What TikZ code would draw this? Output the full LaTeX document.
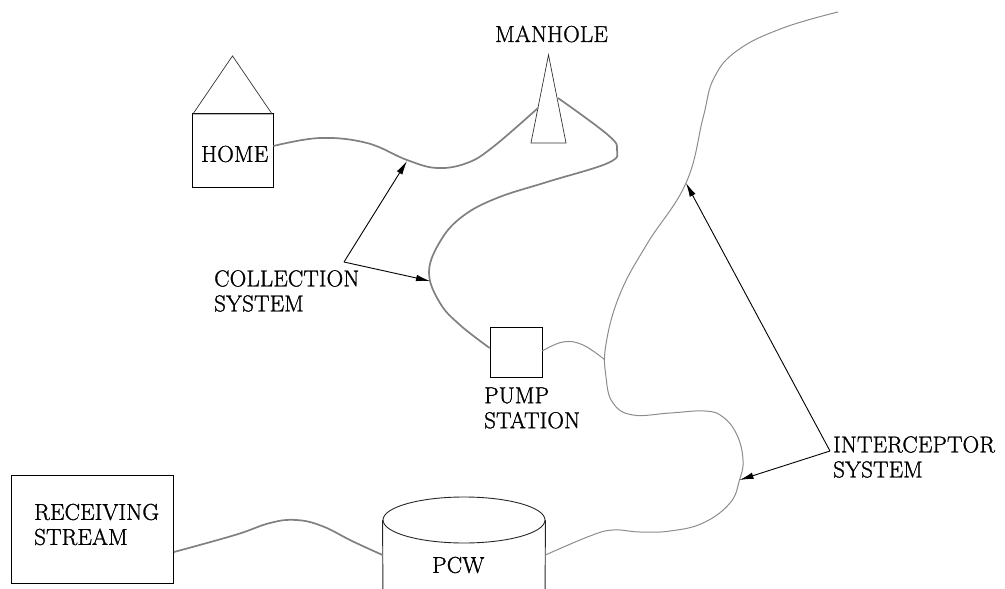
\documentclass[tikz,border=0pt]{standalone}
\usepackage{fontspec}
\newfontfamily\lblfont[FakeBold=1.2,LetterSpace=0.7]{Latin Modern Roman}
\usetikzlibrary{shapes.geometric,arrows.meta}

\begin{document}
\begin{tikzpicture}[
    x=1pt, y=-1pt,
    font=\lblfont\fontsize{23}{25}\selectfont,
    lbl/.style={align=left, anchor=west, inner sep=0pt},
    plainbox/.style={rectangle, draw=black, line width=0.9pt, inner sep=0pt},
    tri/.style={isosceles triangle, isosceles triangle stretches, shape border rotate=90,
                anchor=apex, draw=black!80, line width=0.7pt, inner sep=0pt},
    pcwtop/.style={ellipse, draw=black!85, line width=0.9pt, inner sep=0pt,
                minimum width=162pt, minimum height=46pt},
    colpipe/.style={draw=black!50, line width=1.7pt},
    intpipe/.style={draw=black!45, line width=1pt},
    arr/.style={-{Latex[length=14pt,width=6.5pt]}, line width=0.9pt, black}
]
\useasboundingbox (0,0) rectangle (1005,589);
\clip (0,0) rectangle (1005,589);

% ---- Home ----
\node[plainbox, minimum width=81pt, minimum height=74pt] (home) at (232.5,150) {};
\node[tri, minimum width=79pt, minimum height=58pt] (roof) at (232.5,55) {};
\node[lbl] (hometxt) at (201,154) {HOME};

% ---- Manhole ----
\node[tri, minimum width=35pt, minimum height=88pt] (manhole) at (548.5,54) {};
\node[lbl] (manholetxt) at (495,34) {MANHOLE};
\coordinate (mhleft) at (538,108);
\coordinate (mhright) at (558,98);

% ---- Pump Station ----
\node[plainbox, line width=0.7pt, minimum width=52pt, minimum height=50pt] (pump) at (516,352) {};
\node[lbl] (pumptxt) at (484,408) {PUMP\\STATION};

% ---- Receiving Stream ----
\node[plainbox, minimum width=162pt, minimum height=108pt] (stream) at (92.5,529.5) {};
\node[lbl] (streamtxt) at (34,524.5) {RECEIVING\\STREAM};

% ---- PCW ----
\node[pcwtop] (pcw) at (464,520) {};
\coordinate (pcwbotl) at (383,600);
\coordinate (pcwbotr) at (545,600);
\draw[black!85, line width=0.9pt] (pcw.west) -- (pcwbotl);
\draw[black!85, line width=0.9pt] (pcw.east) -- (pcwbotr);
\node[lbl] (pcwtxt) at (432,565) {PCW};

% ---- Collection pipes ----
\draw[colpipe] plot[smooth, tension=0.65] coordinates {(home.east |- 0,146) (320,138) (367,143) (407,160) (437,168) (467,163) (493,147) (mhleft)};
\coordinate (colbend) at (430,281);
\coordinate (colhit) at (407,161);
\draw[colpipe] plot[smooth, tension=0.65] coordinates {(mhright) (608,135) (617,150) (608,163) (547,182) (497,198) (463,216) (441,240) (429,272) (440,303) (460,325) (pump.west |- 0,348)};

% ---- Interceptor pipes ----
\coordinate (inttop) at (686,183);
\coordinate (intlow) at (739.5,480);
\coordinate (junct) at (605,360);
\draw[intpipe] plot[smooth, tension=0.7] coordinates {(838,12) (783,28) (738,50) (714,78) (703,118) (inttop) (647,244) (620,294) (606,344) (606,377) (613,403) (633,415) (670,413) (705,411) (723,417) (737,435) (743,460) (intlow) (730,503) (703,523) (670,531) (640,532) (613,530) (590,536) (pcw.east |- 0,555)};
\draw[intpipe] plot[smooth, tension=0.7] coordinates {(pump.east |- 0,351) (563,342) (583,345) (junct)};

% ---- Stream pipe ----
\draw[colpipe] plot[smooth, tension=0.7] coordinates {(stream.east |- 0,552) (235,535) (270,523) (296,520) (322,526) (352,541) (pcw.west |- 0,555)};

% ---- Labels with arrows ----
\node[lbl] (coltxt) at (214,291) {COLLECTION\\SYSTEM};
\coordinate (colorig) at (344,262);
\draw[arr] (colorig) -- (colhit);
\draw[arr] (colorig) -- (colbend);

\node[lbl] (inttxt) at (833,457) {INTERCEPTOR\\SYSTEM};
\coordinate (intorig) at (830,451);
\draw[arr] (intorig) -- (inttop);
\draw[arr] (intorig) -- (intlow);

\end{tikzpicture}
\end{document}
